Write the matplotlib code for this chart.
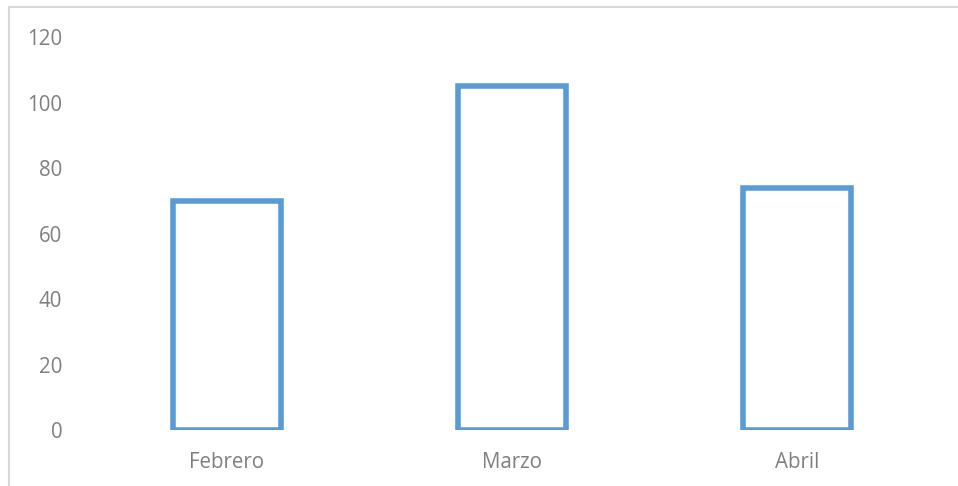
import matplotlib.pyplot as plt
from matplotlib.lines import Line2D

# datos
meses = ["Febrero", "Marzo", "Abril"]
valores = [70, 105, 74]
yticks = [0, 20, 40, 60, 80, 100, 120]

plt.rcParams['font.family'] = ['Open Sans', 'DejaVu Sans']

fig = plt.figure(figsize=(9.58, 4.86), dpi=100)
ax = fig.add_axes([0.0882, 0.1152, 0.8925, 0.8086])

x = range(len(meses))
ax.bar(x, valores, width=0.38, facecolor='none', edgecolor='#5b9bd5', linewidth=4)

ax.set_xlim(-0.5, 2.5)
ax.set_ylim(0, 120)
ax.set_xticks(list(x))
ax.set_xticklabels(meses)
ax.set_yticks(yticks)

for s in ax.spines.values():
    s.set_visible(False)
ax.tick_params(axis='both', length=0, labelsize=14.8, colors='#7f7f7f')
ax.tick_params(axis='y', pad=16)
ax.tick_params(axis='x', pad=16)

# borde del area del grafico
fig.add_artist(Line2D([8.5 / 958, 8.5 / 958], [0, 1 - 7.5 / 486], color='#d9d9d9', lw=1.5, transform=fig.transFigure))
fig.add_artist(Line2D([8.5 / 958, 1], [1 - 7.5 / 486, 1 - 7.5 / 486], color='#d9d9d9', lw=1.5, transform=fig.transFigure))

fig.savefig("out.png", dpi=100)
